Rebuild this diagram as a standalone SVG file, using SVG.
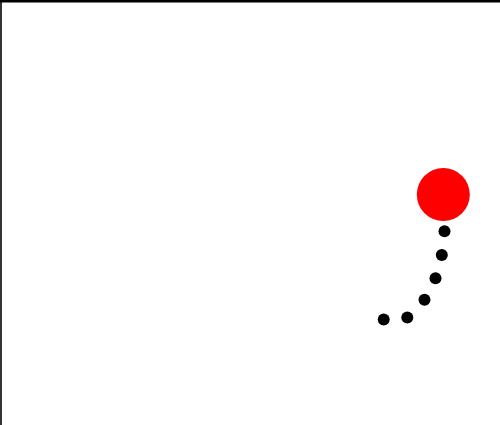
<svg xmlns="http://www.w3.org/2000/svg" width="500" height="425" viewBox="0 0 500 425">
<style>
.dot{fill:#000}
.ball{fill:#ff0000}
.frame{stroke:#000;fill:none}
</style>
<rect width="500" height="425" fill="#fff"/>
<line class="frame" x1="0" y1="1.25" x2="500" y2="1.25" stroke-width="2.5"/>
<line class="frame" x1="1" y1="0" x2="1" y2="425" stroke-width="1.6"/>
<g id="trail">
<circle class="dot" cx="444.5" cy="231.2" r="6"/>
<circle class="dot" cx="441.8" cy="255" r="6"/>
<circle class="dot" cx="435.5" cy="278.3" r="6"/>
<circle class="dot" cx="424.5" cy="299.8" r="6"/>
<circle class="dot" cx="407.3" cy="317.5" r="6"/>
<circle class="dot" cx="383.7" cy="319.5" r="6"/>
</g>
<g id="ball">
<circle class="ball" cx="443.3" cy="194.6" r="26.5"/>
</g>
</svg>
